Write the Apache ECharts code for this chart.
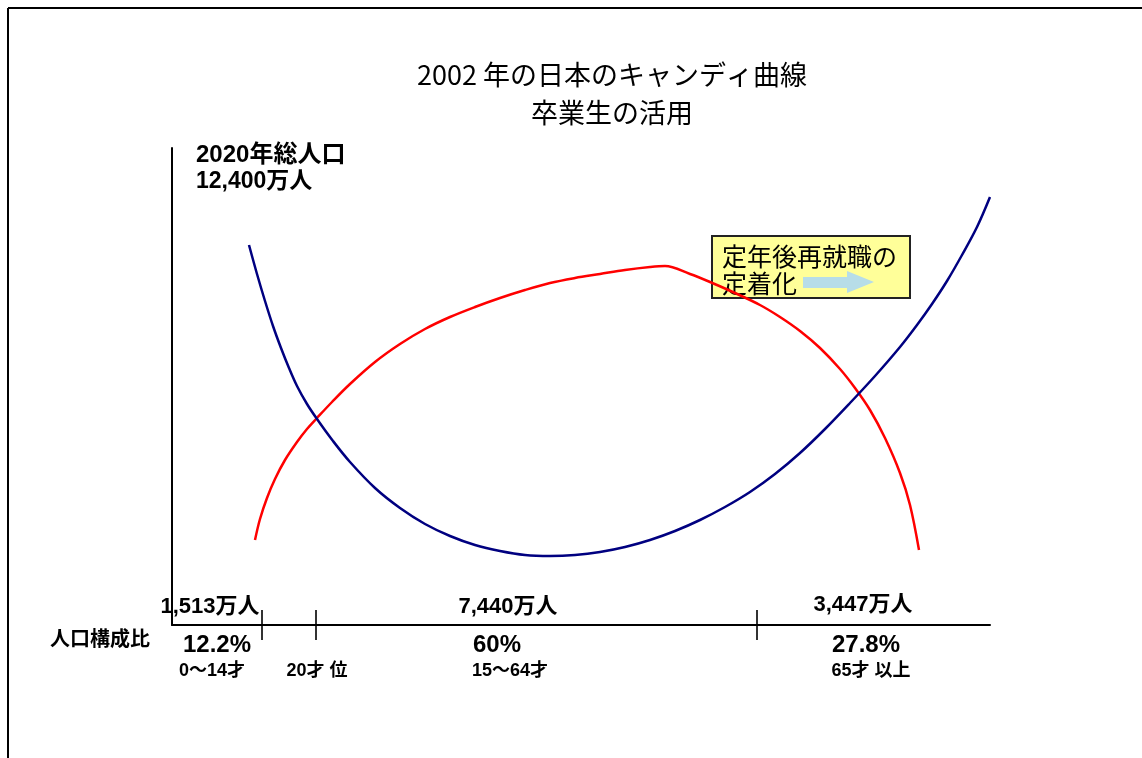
<!DOCTYPE html>
<html>
<head>
<meta charset="utf-8">
<script src="https://cdn.jsdelivr.net/npm/echarts@6/dist/echarts.min.js"></script>
<style>
  html, body { margin: 0; padding: 0; background: #fff; }
  #chart { width: 1142px; height: 758px; }
</style>
</head>
<body>
<div id="chart"></div>
<script>
// Curves on a plain 0–818 (age span) by 0–477 (level) plane
const navyCurve = [
  [77, 380], [85, 351], [93, 324], [101, 299], [109, 277], [117, 257],
  [125, 239], [135, 221], [145, 206], [161, 184], [178, 163], [203, 137],
  [228, 117], [253, 101], [278, 89], [303, 80], [328, 74], [353, 70],
  [378, 69], [403, 70], [428, 73], [453, 78], [478, 85], [503, 94],
  [528, 105], [553, 118], [578, 133], [603, 151], [628, 172], [653, 196],
  [678, 222], [703, 249], [728, 278], [745, 300], [760, 321], [775, 344],
  [790, 370], [805, 398], [818, 428]
];
const redCurve = [
  [83, 85], [88, 106], [95, 127], [103, 146], [113, 165], [125, 183],
  [135, 196], [145, 207], [160, 223], [178, 241], [203, 263], [228, 281],
  [253, 296], [278, 308], [303, 318], [328, 327], [353, 335], [378, 342],
  [403, 347], [428, 351], [453, 355], [478, 358], [493, 359], [518, 351],
  [538, 343], [563, 332], [588, 320], [608, 308], [628, 294], [648, 277],
  [668, 256], [683, 237], [698, 215], [713, 187], [728, 152], [738, 120],
  [747, 75]
];
// Age-group boundaries on the horizontal axis (14, 20 and 64 years)
const boundaryTicks = [90, 144, 585];

const titleLines = ['2002 年の日本のキャンディ曲線', '卒業生の活用'];
const populationLabels = ['1,513万人', '7,440万人', '3,447万人'];
const shareLabels = ['12.2%', '60%', '27.8%'];
const ageLabels = ['0〜14才', '20才 位', '15〜64才', '65才 以上'];
const totalLabel = ['2020年総人口', '12,400万人'];
const noteLines = ['定年後再就職の', '定着化'];

const chart = echarts.init(document.getElementById('chart'), null, { renderer: 'canvas' });

const boldFont = '"Liberation Sans", "Noto Sans CJK JP", sans-serif';
const cjkFont = '"Noto Sans CJK JP", sans-serif';

function label(text, x, y, size, opts) {
  return {
    type: 'text',
    x: x, y: y,
    style: Object.assign({
      text: text,
      fill: '#000',
      font: 'bold ' + size + 'px ' + boldFont,
      textAlign: 'center',
      textVerticalAlign: 'middle'
    }, opts || {})
  };
}

const graphics = [
  // frame
  { type: 'line', shape: { x1: 8, y1: 8, x2: 1142, y2: 8 }, style: { stroke: '#000', lineWidth: 2 } },
  { type: 'line', shape: { x1: 8, y1: 8, x2: 8, y2: 758 }, style: { stroke: '#000', lineWidth: 2 } },
  // title
  label(titleLines[0], 612, 75, 27, { font: 'normal 27px ' + cjkFont }),
  label(titleLines[1], 612, 113, 27, { font: 'normal 27px ' + cjkFont }),
  // total population
  label(totalLabel[0], 196, 155, 24, { textAlign: 'left' }),
  label(totalLabel[1], 196, 182, 23, { textAlign: 'left' }),
  // population per age group
  label(populationLabels[0], 210, 607, 22),
  label(populationLabels[1], 508, 607, 22),
  label(populationLabels[2], 863, 605, 22),
  // composition ratio
  label('人口構成比', 100, 640, 20),
  label(shareLabels[0], 217, 645, 24),
  label(shareLabels[1], 497, 645, 24),
  label(shareLabels[2], 866, 645, 24),
  // age ranges
  label(ageLabels[0], 212, 671, 18),
  label(ageLabels[1], 317, 671, 18),
  label(ageLabels[2], 510, 671, 18),
  label(ageLabels[3], 871, 671, 18),
  // note box
  { type: 'rect', shape: { x: 712, y: 236, width: 198, height: 62 },
    style: { fill: '#FFFF99', stroke: '#222', lineWidth: 2 } },
  label(noteLines[0], 722, 256, 25, { textAlign: 'left', font: 'normal 25px ' + cjkFont }),
  label(noteLines[1], 722, 283, 25, { textAlign: 'left', font: 'normal 25px ' + cjkFont }),
  { type: 'polygon',
    shape: { points: [[803, 277], [847, 277], [847, 271], [874, 282], [847, 293], [847, 288], [803, 288]] },
    style: { fill: '#B7DDE8' } }
];

chart.setOption({
  animation: false,
  backgroundColor: '#fff',
  grid: { left: 172, top: 148, right: 152, bottom: 133 },
  xAxis: {
    type: 'value', min: 0, max: 818,
    axisLine: { show: true, onZero: false, lineStyle: { color: '#000', width: 2 } },
    axisTick: { show: false }, axisLabel: { show: false }, splitLine: { show: false }
  },
  yAxis: {
    type: 'value', min: 0, max: 477,
    axisLine: { show: true, onZero: false, lineStyle: { color: '#000', width: 2 } },
    axisTick: { show: false }, axisLabel: { show: false }, splitLine: { show: false }
  },
  series: [
    {
      type: 'line', data: navyCurve, smooth: 0.35, showSymbol: false,
      lineStyle: { color: '#000080', width: 2.5 }, z: 3
    },
    {
      type: 'line', data: redCurve, smooth: 0.35, showSymbol: false,
      lineStyle: { color: '#FF0000', width: 2.5 }, z: 2
    },
    {
      type: 'scatter', data: boundaryTicks.map(v => [v, 0]), clip: false,
      symbol: 'rect', symbolSize: [2, 30], itemStyle: { color: '#000' }, z: 4
    }
  ],
  graphic: graphics
});
</script>
</body>
</html>
